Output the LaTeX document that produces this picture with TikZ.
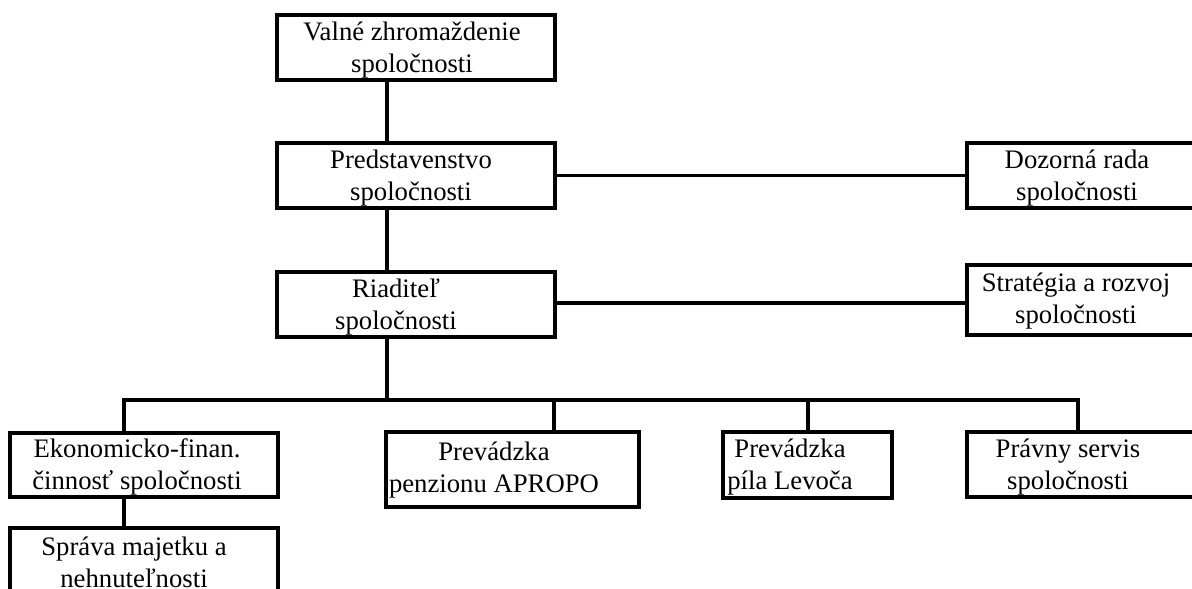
\documentclass[tikz,border=0pt]{standalone}
\usepackage{fontspec}
\setmainfont{Liberation Serif}
\tikzset{
  unit/.style={draw,rectangle,line width=1.8pt,inner sep=0pt},
  lbl/.style={align=center,inner sep=0pt,font=\fontsize{15.2}{18.2}\selectfont},
  link/.style={line width=1.8pt}
}
\begin{document}
\begin{tikzpicture}[x=0.02cm,y=-0.02cm]
  \useasboundingbox (0,0) rectangle (1192,588);
  \clip (0,0) rectangle (1192,588);

  % Top levels
  \node[unit,minimum width=5.56cm,minimum height=1.3cm] (V) at (416,47.5) {};
  \node[unit,minimum width=5.56cm,minimum height=1.3cm] (P) at (416,175.5) {};
  \node[unit,minimum width=5.56cm,minimum height=1.3cm] (R) at (416,304.5) {};
  \node[lbl] (V-t) at (412,50.5) {Valné zhromaždenie\\spoločnosti};
  \node[lbl] (P-t) at (411,178.5) {Predstavenstvo\\spoločnosti};
  \node[lbl] (R-t) at (396,307) {Riaditeľ\\spoločnosti};

  % Right side
  \node[unit,minimum width=4.54cm,minimum height=1.3cm] (D) at (1080.5,175.5) {};
  \node[unit,minimum width=4.54cm,minimum height=1.4cm] (S) at (1080.5,300) {};
  \node[lbl] (D-t) at (1077,178.5) {Dozorná rada\\spoločnosti};
  \node[lbl] (S-t) at (1076,301) {Stratégia a rozvoj\\spoločnosti};

  % Bottom row
  \node[unit,minimum width=5.36cm,minimum height=1.28cm] (E) at (144,465) {};
  \node[unit,minimum width=5.06cm,minimum height=1.5cm] (Pz) at (512.5,469.5) {};
  \node[unit,minimum width=3.38cm,minimum height=1.32cm] (Pl) at (807.5,465) {};
  \node[unit,minimum width=4.54cm,minimum height=1.3cm] (Pr) at (1080.5,464.5) {};
  \node[unit,minimum width=5.36cm,minimum height=1.6cm] (M) at (144,568) {};
  \node[lbl] (E-t) at (137,467) {Ekonomicko-finan.\\činnosť spoločnosti};
  \node[lbl] (Pz-t) at (494,470) {Prevádzka\\penzionu APROPO};
  \node[lbl] (Pl-t) at (790,467) {Prevádzka\\píla Levoča};
  \node[lbl] (Pr-t) at (1068,467) {Právny servis\\spoločnosti};
  \node[lbl] (M-t) at (134,562.5) {Správa majetku a\\nehnuteľnosti};

  % Spine and bus points
  \coordinate (spine) at (387,0);
  \coordinate (dE) at (124,400);
  \coordinate (dPz) at (554,400);
  \coordinate (dPl) at (808,400);
  \coordinate (dPr) at (1078,400);

  % Connect
  \draw[link] (V.south -| spine) -- (P.north -| spine);
  \draw[link] (P.south -| spine) -- (R.north -| spine);
  \draw[link] (P.east) -- (P.east -| D.west);
  \draw[link] (R.east) ++(0,-1.5) coordinate (r) -- (r -| S.west);
  \draw[link] (R.south -| spine) -- (dE -| spine);
  \draw[link] (E.north -| dE) -- (dE) -- (dPr) -- (Pr.north -| dPr);
  \foreach \d/\b in {dPz/Pz,dPl/Pl}
    \draw[link] (\d) -- (\b.north -| \d);
  \draw[link] (E.south -| dE) -- (M.north -| dE);
\end{tikzpicture}
\end{document}
